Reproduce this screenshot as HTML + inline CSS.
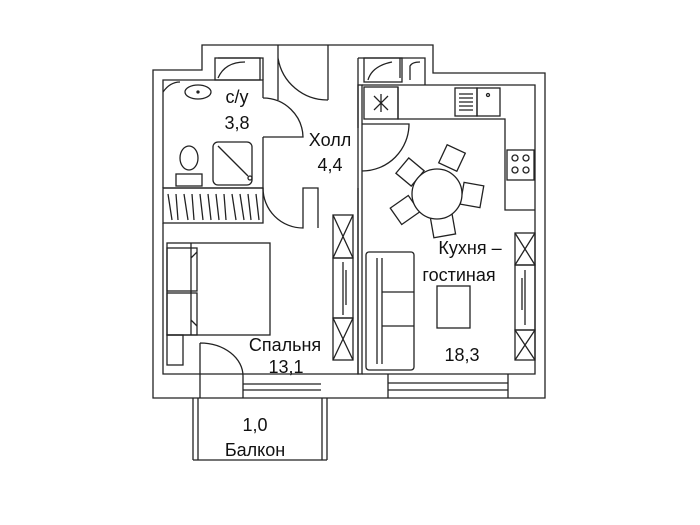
<!DOCTYPE html>
<html><head><meta charset="utf-8"><style>
html,body{margin:0;padding:0;background:#fff;width:700px;height:525px;overflow:hidden}
text{font-family:"Liberation Sans",sans-serif;fill:#111}
</style></head><body>
<svg width="700" height="525" viewBox="0 0 700 525" xmlns="http://www.w3.org/2000/svg" fill="none" stroke="#222" stroke-width="1.3">
<!-- outer wall -->
<path d="M153 70 H202 V45 H433 V73 H545 V398 H153 Z" fill="#fff"/>
<!-- inner top notches -->
<path d="M218 58 H263 V80 M278 58 V45 M328 58 V45 M358 58 H400 V78 M390 58 H425 V85"/>
<rect x="215" y="58" width="45" height="22"/>
<path d="M218 78 Q225 62 245 62"/>
<rect x="364" y="58" width="38" height="24"/>
<path d="M368 80 Q372 66 392 62"/>
<path d="M410 80 V66 Q412 62 420 62"/>
<!-- bathroom -->
<path d="M163 188 V80 H263 V98 M263 137 V188 H163"/>
<path d="M163 92 Q170 82 180 82"/>
<ellipse cx="198" cy="92" rx="13" ry="7"/>
<circle cx="198" cy="92" r="1" fill="#222"/>
<ellipse cx="189" cy="158" rx="9" ry="12"/>
<rect x="176" y="174" width="26" height="12"/>
<rect x="213" y="142" width="39" height="43" rx="5"/>
<path d="M218 146 L248 176"/><circle cx="250" cy="178" r="2"/>
<!-- wardrobe -->
<rect x="163" y="188" width="100" height="35"/>
<path d="M168 194 L172 220 M176 194 L178 220 M184 194 L188 220 M192 194 L194 220 M200 194 L203 220 M208 194 L211 220 M216 194 L219 220 M224 194 L226 220 M232 194 L236 220 M240 194 L244 220 M248 194 L251 220 M256 194 L259 220"/>
<!-- hall -->
<path d="M278 58 V100 M328 58 V100 M278 58 A50 50 0 0 0 328 100"/>
<path d="M263 98 A40 40 0 0 1 303 137 H263"/>
<path d="M263 188 A40 40 0 0 0 303 228 V188 H318 V228"/>
<path d="M362 124 H409 A47 47 0 0 1 362 171"/>
<!-- partition -->
<rect x="358" y="85" width="4" height="289" fill="#fff"/>
<path d="M358 58 V128"/>
<!-- bedroom -->
<path d="M163 223 V374 H358 V188"/>
<rect x="333" y="215" width="20" height="43"/><path d="M333 215 L353 258 M353 215 L333 258"/>
<rect x="333" y="258" width="20" height="60"/><path d="M343 262 V315 M346 270 V305"/>
<rect x="333" y="318" width="20" height="42"/><path d="M333 318 L353 360 M353 318 L333 360"/>
<rect x="167" y="243" width="103" height="92" fill="#fff"/>
<rect x="167" y="248" width="30" height="43"/><rect x="167" y="293" width="30" height="42"/>
<path d="M191 243 V335 M197 252 L191 258 M197 326 L191 320"/>
<rect x="167" y="335" width="16" height="30"/>
<!-- balcony door -->
<path d="M200 343 V398 M200 343 A43 33 0 0 1 243 376 V398 M243 390 H321 M243 384 H321"/>
<!-- balcony -->
<path d="M193 398 V460 M198 398 V460 M322 398 V460 M327 398 V460 M193 460 H327"/>
<!-- kitchen -->
<path d="M362 85 H535 V374 H362"/>
<rect x="364" y="87" width="34" height="32"/>
<path d="M374 96 L388 110 M374 110 L388 96 M381 94 V112"/>
<path d="M398 87 V119 H505 V210 H535"/>
<rect x="455" y="88" width="22" height="28"/>
<path d="M459 94 H473 M459 98 H473 M459 102 H473 M459 106 H473 M459 110 H473"/>
<rect x="477" y="88" width="23" height="28"/><circle cx="488" cy="95" r="1.5"/>
<rect x="507" y="150" width="27" height="30"/>
<circle cx="515" cy="158" r="3"/><circle cx="526" cy="158" r="3"/><circle cx="515" cy="170" r="3"/><circle cx="526" cy="170" r="3"/>
<g fill="#fff">
<rect x="400" y="162" width="20" height="20" transform="rotate(40 410 172)"/>
<rect x="442" y="148" width="20" height="20" transform="rotate(25 452 158)"/>
<rect x="462" y="184" width="20" height="22" transform="rotate(10 472 195)"/>
<rect x="432" y="216" width="22" height="20" transform="rotate(-10 443 226)"/>
<rect x="394" y="200" width="22" height="20" transform="rotate(-35 405 210)"/>
</g>
<circle cx="437" cy="194" r="25" fill="#fff"/>
<rect x="515" y="233" width="20" height="32"/><path d="M515 233 L535 265 M535 233 L515 265"/>
<rect x="515" y="265" width="20" height="65"/><path d="M525 270 V325 M522 278 V310"/>
<rect x="515" y="330" width="20" height="30"/><path d="M515 330 L535 360 M535 330 L515 360"/>
<rect x="366" y="252" width="48" height="118" rx="3"/>
<path d="M377 258 V364 M382 258 V364 M382 292 H414 M382 326 H414"/>
<rect x="437" y="286" width="33" height="42"/>
<path d="M388 374 V398 M508 374 V398 M388 383 H508 M388 390 H508"/>
</svg>
<svg width="700" height="525" style="position:absolute;left:0;top:0" xmlns="http://www.w3.org/2000/svg">
<text x="237" y="103" font-size="18" text-anchor="middle">с/у</text>
<text x="237" y="129" font-size="18" text-anchor="middle">3,8</text>
<text x="330" y="146" font-size="18" text-anchor="middle">Холл</text>
<text x="330" y="171" font-size="18" text-anchor="middle">4,4</text>
<text x="470" y="254" font-size="18" text-anchor="middle">Кухня –</text>
<text x="459" y="281" font-size="18" text-anchor="middle">гостиная</text>
<text x="462" y="361" font-size="18" text-anchor="middle">18,3</text>
<text x="285" y="351" font-size="18" text-anchor="middle">Спальня</text>
<text x="286" y="373" font-size="18" text-anchor="middle">13,1</text>
<text x="255" y="431" font-size="18" text-anchor="middle">1,0</text>
<text x="255" y="456" font-size="18" text-anchor="middle">Балкон</text>
</svg>
</body></html>
